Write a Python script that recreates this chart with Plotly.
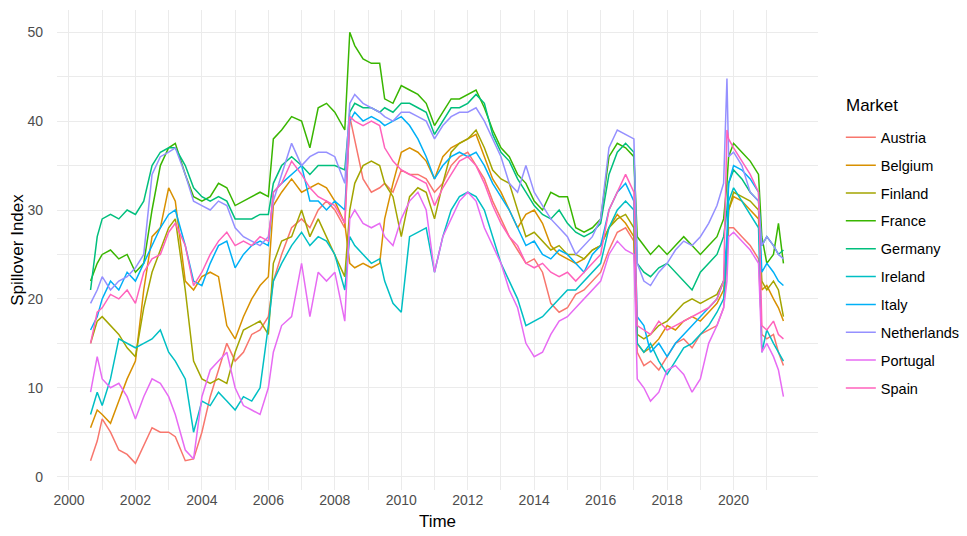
"""Spillover index per market, 2000-2021."""

import plotly.graph_objects as go

# decimal years of the sampled points
years = [
    2000.65, 2000.85, 2001.0, 2001.25, 2001.5, 2001.75, 2002.0, 2002.25, 2002.5, 2002.75,
    2003.0, 2003.2, 2003.5, 2003.75, 2004.0, 2004.25, 2004.5, 2004.75, 2005.0, 2005.25,
    2005.5, 2005.75, 2006.0, 2006.15, 2006.4, 2006.7, 2007.0, 2007.25, 2007.5, 2007.75,
    2008.0, 2008.3, 2008.45, 2008.6, 2008.85, 2009.1, 2009.35, 2009.5, 2009.75, 2010.0,
    2010.25, 2010.5, 2010.75, 2011.0, 2011.25, 2011.5, 2011.75, 2012.0, 2012.25, 2012.5,
    2012.75, 2013.0, 2013.25, 2013.5, 2013.75, 2014.0, 2014.25, 2014.5, 2014.75, 2015.0,
    2015.25, 2015.5, 2015.75, 2016.0, 2016.25, 2016.5, 2016.75, 2017.0, 2017.1, 2017.3,
    2017.5, 2017.75, 2018.0, 2018.25, 2018.5, 2018.75, 2019.0, 2019.25, 2019.5, 2019.7,
    2019.8, 2019.85, 2020.0, 2020.25, 2020.5, 2020.75, 2020.85, 2021.0, 2021.2, 2021.35, 2021.5,
]

austria = [
    1.8, 4, 6.5, 5, 3, 2.5, 1.5, 3.5, 5.5, 5,
    5, 4.5, 1.8, 2, 5, 9, 12, 15, 13, 14,
    16, 16.5, 18, 22, 25, 28, 29, 28, 30, 31,
    30, 28, 40.5, 38, 33.5, 32, 32.5, 33, 32, 34.5,
    34, 34, 33.5, 32, 33, 35, 36, 36.5, 35, 33.5,
    31, 29, 27, 25.5, 24, 24.5, 23, 19.5, 18.5, 19,
    20.5, 21, 22, 23, 25.5, 27.5, 28, 26.5, 14, 12.5,
    13, 12, 13.5, 15, 15.5, 14.5, 16, 16.5, 17, 19,
    24, 28, 28, 27, 26, 24.5, 16, 15.5, 16, 14, 12.5,
]
belgium = [
    5.5, 7.5, 7, 6, 8.5, 11, 13, 21, 27, 28,
    32.5, 31, 22, 21, 22.5, 23, 22.5, 17, 15.5, 18,
    20, 21.5, 22.5, 30.5, 32, 33.5, 32, 32.5, 33, 32.5,
    31, 28.5, 24, 23.5, 24, 23.5, 24, 29, 33, 36.5,
    37, 36.5, 35.5, 33.5, 36, 37, 37.5, 38, 38.5, 36,
    33.5, 32, 30, 28, 29.5, 30, 28.5, 26, 25, 24.5,
    24, 24.5, 25.5, 26, 28, 29.5, 28.5, 27, 15, 14,
    14.5, 15.5, 17, 16.5, 17.5, 18, 17.5, 18.5, 19.5, 21,
    25, 30, 31.5, 31, 30, 29, 21, 21.5, 20, 19, 17.5,
]
finland = [
    15, 17.5, 18, 17, 16, 14.5, 13.5, 19, 23, 25.5,
    28, 29, 21, 13, 11, 10.5, 11, 10.5, 14, 16.5,
    17, 17.5, 16, 24, 26.5, 27, 30, 27, 29, 27,
    25, 22.5, 30, 33, 35, 35.5, 35, 33, 31.5, 27,
    31.5, 32.5, 32, 29, 33, 36.5, 37.5, 38, 39, 37,
    34.5, 33.5, 33, 30, 27, 27.5, 26.5, 25.5, 26, 25,
    25, 24.5, 25.5, 26, 28, 29, 29.5, 28, 16, 15.5,
    16, 17, 17.5, 18.5, 19.5, 20, 19.5, 20, 20.5, 22,
    26, 30, 32, 31.5, 31, 30, 22, 21, 22, 21, 18,
]
france = [
    22, 24, 25, 25.5, 24.5, 25, 23, 24, 30, 35,
    37, 37.5, 34, 31.5, 31, 31.5, 33, 32.5, 30.5, 31,
    31.5, 32, 31.5, 38, 39, 40.5, 40, 37, 41.5, 42,
    41, 39, 50, 48.5, 47, 46.5, 46.5, 42.5, 42, 44,
    43.5, 43, 42, 39.5, 41, 42.5, 42.5, 43, 43.5, 41.5,
    39, 37, 36, 34, 33, 31, 30, 32, 31.5, 31.5,
    28, 27.5, 28, 29, 36, 37.5, 37, 36, 27, 26,
    25, 26, 25, 26, 27, 26, 25, 26, 27, 29,
    33, 36, 37.5, 36.5, 35.5, 34, 27, 24, 25, 28.5, 24,
]
germany = [
    21, 27, 29, 29.5, 29, 30, 29.5, 31, 35, 36.5,
    37, 37, 35, 32.5, 31.5, 31, 31.5, 31, 29, 29,
    29, 29.5, 29.5, 33, 35, 36, 35, 34, 35, 35,
    35, 34.5, 41, 42, 41.5, 41.5, 41, 41.5, 41, 42,
    42, 41.5, 41, 38.5, 40, 41.5, 41.5, 42, 43, 42,
    38.5, 36.5, 35.5, 33.5, 32, 30.5, 29.5, 29, 30, 28.5,
    27.5, 27, 27.5, 28.5, 34, 36.5, 37.5, 36.5, 24, 23,
    22.5, 23.5, 24, 23, 22, 21, 23, 24, 25, 27,
    30, 33, 34.5, 33.5, 32, 31, 26, 27, 26, 25, 25.5,
]
ireland = [
    7, 9.5, 8, 11, 15.5, 15, 14.5, 15, 15.5, 16.5,
    14, 13, 11, 5, 8.5, 8, 9.5, 8.5, 7.5, 9,
    8.5, 10, 17, 22, 24, 26, 27.5, 26, 27, 26.5,
    25, 21, 27, 26, 25, 24, 24.5, 22, 19.5, 18.5,
    27, 27.5, 28, 23, 27, 30, 31.5, 32, 31.5, 30,
    27, 24, 22, 20, 17, 17.5, 18, 19, 20, 21,
    21, 22, 23, 24, 28, 30, 31, 30, 15, 14,
    15, 13, 11.5, 13, 14.5, 15, 16, 17, 18.5, 20,
    25, 31, 32.5, 31, 29.5, 28, 14, 16.5, 15, 14, 13,
]
italy = [
    16.5, 18, 20, 22, 21, 23, 22, 24, 26, 28,
    29.5, 30, 26, 22, 21.5, 24, 26, 26.5, 23.5, 25,
    26, 26.5, 26, 32, 33, 34, 35, 31, 31, 30,
    31, 30, 40, 41, 40, 40.5, 40, 39.5, 40, 40.5,
    39.5, 38, 36, 33.5, 35, 36, 36.5, 36, 36.5, 35,
    33, 31.5, 30, 28, 26, 26.5, 25, 24.5, 25.5, 25,
    24, 23, 25, 26, 30, 32, 33, 31, 18, 17,
    14, 15, 13.5, 15, 16, 17, 18, 19, 20, 22,
    27, 33, 35, 34.5, 33.5, 32, 23, 24, 23, 22, 21.5,
]
netherlands = [
    19.5, 21, 22.5, 21, 22, 22.5, 23.5, 25, 34, 36,
    36.5, 37, 34, 31, 30.5, 30, 31, 30.5, 28, 27,
    26.5, 26, 27, 31, 34, 37.5, 35, 36, 36.5, 36.5,
    36, 33, 42, 43, 42, 41.5, 41, 40.5, 40, 41,
    41, 40.5, 40, 38, 39.5, 40.5, 41, 41, 41.5, 40,
    38, 36, 33, 32, 35, 32, 30.5, 29, 28, 27,
    25, 26, 27, 29, 37, 39, 38.5, 38, 24, 22,
    21.5, 23, 24, 25.5, 26.5, 26, 27, 28.5, 30.5, 33,
    44.8, 36, 36.5, 35, 32, 31, 26, 27, 26, 25, 24.5,
]
portugal = [
    9.5, 13.5, 11, 10, 10.5, 9, 6.5, 9, 11, 10.5,
    9, 7, 3, 2, 9, 12, 13, 14, 10, 8,
    7.5, 7, 10, 14, 17, 18, 24, 18, 23, 22,
    23, 17.5, 29, 30, 28.5, 28, 28.5, 27, 26, 29,
    31, 32, 30, 23, 27, 29, 31, 32, 31, 28,
    26, 24, 21, 19, 15, 13.5, 14, 16, 17.5, 18,
    19, 20, 21, 22, 25, 26.5, 25.5, 25, 11, 10,
    8.5, 9.5, 12, 12.5, 11.5, 9.5, 11, 15, 17, 19,
    22, 27, 27.5, 26.5, 25.5, 24, 14, 15, 13.5, 12, 9,
]
spain = [
    15, 18.5, 19, 20.5, 20, 21, 19.5, 23, 24.5, 25,
    27.5, 28.5, 26, 21.5, 23, 25, 26.5, 27.5, 26, 26.5,
    26, 27, 26.5, 32, 33, 35.5, 34, 32.5, 31.5, 31,
    30.5, 28.5, 40.5, 40, 39.5, 40, 39.5, 37, 35.5, 34.5,
    34, 33.5, 33, 30.5, 32.5, 34, 35.5, 36, 35, 33,
    30.5, 28.5, 27, 26, 24, 23.5, 24, 23, 22.5, 23,
    22, 23, 24, 25, 30, 32, 34, 32, 17, 16.5,
    16, 17.5, 16.5, 17, 17.5, 18, 18.5, 19, 20, 22,
    39, 38, 37, 35.5, 34, 32, 17, 16.5, 17.5, 16, 15.5,
]

markets = ["Austria", "Belgium", "Finland", "France", "Germany",
           "Ireland", "Italy", "Netherlands", "Portugal", "Spain"]
series = [austria, belgium, finland, france, germany,
          ireland, italy, netherlands, portugal, spain]

x_ticks = list(range(2000, 2021, 2))
x_minor = list(range(2001, 2022, 2))
y_ticks = [0, 10, 20, 30, 40, 50]
y_minor = [5, 15, 25, 35, 45]

COLORS = ["#F8766D", "#D89000", "#A3A500", "#39B600", "#00BF7D",
          "#00BFC4", "#00B0F6", "#9590FF", "#E76BF3", "#FF62BC"]
GRID = "#EBEBEB"
FONT = "Liberation Sans, Arial, sans-serif"

fig = go.Figure()
for name, values, color in zip(markets, series, COLORS):
    fig.add_trace(go.Scatter(x=years, y=values, name=name, mode="lines", legendgroup=name,
                             line=dict(color=color, width=1.5)))

# the page body adds an 8px offset, so the figure is 8px smaller than the window
fig.update_layout(
    width=959, height=528,
    margin=dict(l=49, r=147, t=2, b=46),
    plot_bgcolor="white", paper_bgcolor="white",
    font=dict(family=FONT, color="#000000"),
    legend=dict(font=dict(size=14.5), x=1.030, xanchor="left", y=0.768, yanchor="top",
                tracegroupgap=6, itemwidth=30),
)
# legend title drawn separately so the gap to the first entry matches
fig.add_annotation(text="Market", xref="paper", yref="paper", x=1.034, y=0.802,
                   xanchor="left", yanchor="middle", showarrow=False, font=dict(size=17))

fig.update_xaxes(
    range=[1999.64, 2022.54], tickmode="array", tickvals=x_ticks,
    ticktext=[str(t) for t in x_ticks], tickfont=dict(size=14, color="#4D4D4D"),
    showgrid=True, gridcolor=GRID, gridwidth=1.3, zeroline=False, showline=False,
    minor=dict(tickvals=x_minor, showgrid=True, gridcolor=GRID, gridwidth=0.8),
    title=dict(text="Time", font=dict(size=17), standoff=8), automargin=False,
)
fig.update_yaxes(
    range=[-1.5, 52.5], tickmode="array", tickvals=y_ticks,
    tickfont=dict(size=14, color="#4D4D4D"), ticklabelstandoff=13,
    showgrid=True, gridcolor=GRID, gridwidth=1.3, zeroline=False, showline=False,
    minor=dict(tickvals=y_minor, showgrid=True, gridcolor=GRID, gridwidth=0.8),
    title=dict(text="Spillover Index", font=dict(size=17), standoff=0), automargin=False,
)

fig.write_html("out.html")
